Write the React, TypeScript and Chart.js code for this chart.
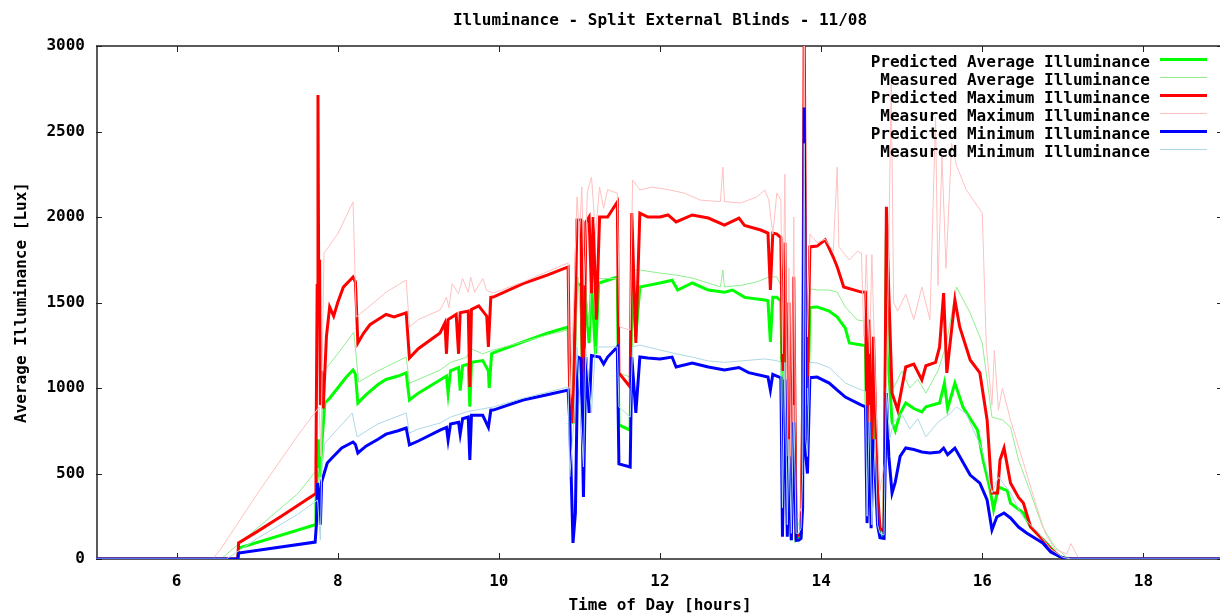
import { useEffect, useRef } from "react";
import { Chart, registerables } from "chart.js";

Chart.register(...registerables);

const TITLE = "Illuminance - Split External Blinds - 11/08";
const X_TITLE = "Time of Day [hours]";
const Y_TITLE = "Average Illuminance [Lux]";
const X_TICKS = [6, 8, 10, 12, 14, 16, 18];
const Y_TICKS = [0, 500, 1000, 1500, 2000, 2500, 3000];

const SERIES_LABELS = [
  "Predicted Average Illuminance",
  "Measured Average Illuminance",
  "Predicted Maximum Illuminance",
  "Measured Maximum Illuminance",
  "Predicted Minimum Illuminance",
  "Measured Minimum Illuminance",
];
const SERIES_COLORS = ["#00ff00", "#90ee90", "#ff0000", "#ffc0c0", "#0000ff", "#add8e6"];
const SERIES_WIDTHS = [3, 1, 3, 1, 3, 1];

// [hour, lux]
const predictedAverage: [number, number][] = [
  [5, 0], [6.76, 0], [6.77, 64], [7.72, 200], [7.73, 320], [7.75, 560], [7.76, 700], [7.78, 480], [7.8, 655],
  [7.84, 912], [7.9, 940], [8.0, 1000], [8.1, 1060], [8.19, 1105], [8.22, 1080], [8.25, 912], [8.35, 960],
  [8.5, 1020], [8.6, 1050], [8.75, 1070], [8.85, 1088], [8.89, 930], [9.0, 970], [9.27, 1047], [9.35, 1070],
  [9.37, 970], [9.4, 1100], [9.5, 1120], [9.52, 985], [9.55, 1130], [9.62, 1140], [9.64, 890], [9.66, 1150],
  [9.8, 1160], [9.87, 1100], [9.88, 1000], [9.91, 1200], [9.93, 1205], [10.3, 1270], [10.6, 1320], [10.86, 1357],
  [10.88, 970], [10.92, 790], [10.96, 1614], [11.02, 1600], [11.04, 1000], [11.06, 1610], [11.12, 1263],
  [11.15, 1614], [11.2, 1200], [11.24, 1614], [11.35, 1630], [11.47, 1649], [11.49, 784], [11.63, 754],
  [11.65, 1614], [11.7, 1300], [11.75, 1591], [11.85, 1600], [12.0, 1614], [12.15, 1630], [12.22, 1573],
  [12.4, 1614], [12.6, 1573], [12.8, 1560], [12.9, 1573], [13.05, 1530], [13.3, 1515], [13.34, 1510],
  [13.37, 1269], [13.4, 1530], [13.45, 1530], [13.5, 1510], [13.52, 900], [13.55, 1480], [13.58, 250],
  [13.6, 1100], [13.63, 110], [13.66, 1200], [13.69, 110], [13.72, 120], [13.75, 130], [13.77, 600],
  [13.79, 2200], [13.81, 900], [13.83, 800], [13.86, 1470], [13.95, 1474], [14.1, 1450], [14.2, 1415],
  [14.3, 1350], [14.35, 1263], [14.5, 1251], [14.55, 1250], [14.57, 500], [14.6, 1100], [14.62, 250],
  [14.65, 900], [14.7, 300], [14.73, 140], [14.78, 130], [14.81, 1900], [14.84, 1100], [14.88, 800],
  [14.92, 750], [14.98, 850], [15.05, 912], [15.15, 880], [15.25, 860], [15.3, 890], [15.47, 912],
  [15.53, 1029], [15.57, 880], [15.66, 1029], [15.76, 889], [15.94, 754], [16.01, 579], [16.09, 421],
  [16.14, 290], [16.2, 421], [16.31, 400], [16.35, 327], [16.51, 269], [16.6, 187], [16.76, 111],
  [16.93, 23], [17.0, 0], [19, 0],
];

const measuredAverage: [number, number][] = [
  [5, 0], [6.55, 0], [7.0, 180], [7.5, 380], [7.76, 532], [7.79, 400], [7.81, 900], [7.84, 1105], [8.0, 1200],
  [8.2, 1327], [8.26, 1035], [8.5, 1100], [8.85, 1181], [8.89, 1029], [9.0, 1050], [9.27, 1105], [9.4, 1150],
  [9.6, 1180], [9.65, 1230], [9.8, 1200], [9.93, 1222], [10.3, 1270], [10.6, 1310], [10.86, 1339],
  [10.88, 579], [10.95, 1200], [10.98, 1649], [11.03, 1300], [11.06, 1660], [11.12, 1357], [11.15, 1640],
  [11.3, 1640], [11.47, 1640], [11.49, 1088], [11.63, 1064], [11.66, 1690], [11.75, 1690], [12.0, 1672],
  [12.2, 1660], [12.4, 1643], [12.6, 1614], [12.75, 1591], [12.78, 1690], [12.8, 1591], [13.0, 1600],
  [13.2, 1620], [13.35, 1649], [13.45, 1650], [13.5, 1600], [13.52, 800], [13.55, 1650], [13.58, 300],
  [13.6, 1200], [13.63, 200], [13.66, 1300], [13.69, 180], [13.72, 200], [13.75, 250], [13.77, 800],
  [13.79, 2300], [13.81, 1000], [13.83, 900], [13.86, 1580], [13.95, 1573], [14.1, 1573], [14.2, 1560],
  [14.3, 1474], [14.45, 1398], [14.55, 1390], [14.57, 600], [14.6, 1250], [14.63, 300], [14.67, 1000],
  [14.7, 400], [14.73, 200], [14.78, 180], [14.81, 1900], [14.84, 1200], [14.9, 1000], [15.0, 1100],
  [15.1, 1000], [15.2, 1050], [15.3, 970], [15.45, 1100], [15.55, 1250], [15.68, 1591], [15.85, 1438],
  [16.0, 1263], [16.12, 830], [16.25, 813], [16.35, 772], [16.45, 579], [16.6, 386], [16.75, 187],
  [16.9, 70], [17.05, 10], [17.15, 0], [19, 0],
];

const predictedMaximum: [number, number][] = [
  [5, 0], [6.76, 0], [6.77, 94], [7.0, 160], [7.3, 250], [7.72, 380], [7.73, 560], [7.745, 1600],
  [7.755, 2713], [7.765, 1500], [7.775, 1750], [7.785, 900], [7.8, 1100], [7.82, 880], [7.86, 1300],
  [7.9, 1474], [7.95, 1420], [8.0, 1500], [8.07, 1590], [8.19, 1649], [8.22, 1620], [8.25, 1263],
  [8.32, 1320], [8.4, 1370], [8.5, 1400], [8.6, 1430], [8.7, 1415], [8.85, 1440], [8.89, 1175], [9.0, 1230],
  [9.27, 1322], [9.33, 1380], [9.35, 1200], [9.37, 1400], [9.47, 1430], [9.5, 1200], [9.52, 1440],
  [9.62, 1450], [9.64, 1006], [9.66, 1460], [9.75, 1480], [9.85, 1420], [9.87, 1240], [9.9, 1530],
  [9.93, 1532], [10.3, 1610], [10.6, 1660], [10.86, 1708], [10.88, 970], [10.92, 795], [10.97, 1982],
  [11.02, 1982], [11.03, 1322], [11.05, 795], [11.08, 1970], [11.12, 2000], [11.15, 1555], [11.17, 2000],
  [11.21, 1400], [11.25, 2000], [11.35, 2000], [11.47, 2088], [11.49, 1088], [11.63, 1006], [11.65, 2023],
  [11.7, 1263], [11.75, 2023], [11.85, 2000], [12.0, 2000], [12.1, 2012], [12.2, 1971], [12.4, 2012],
  [12.6, 1994], [12.8, 1953], [12.98, 1994], [13.05, 1950], [13.25, 1924], [13.34, 1906], [13.37, 1573],
  [13.4, 1906], [13.45, 1900], [13.5, 1880], [13.52, 1100], [13.55, 1850], [13.58, 300], [13.6, 1500],
  [13.63, 130], [13.66, 1650], [13.69, 130], [13.72, 140], [13.75, 150], [13.77, 900], [13.79, 3100],
  [13.81, 1300], [13.83, 1000], [13.86, 1825], [13.95, 1830], [14.05, 1866], [14.15, 1766], [14.2, 1708],
  [14.28, 1591], [14.5, 1561], [14.55, 1560], [14.57, 700], [14.6, 1400], [14.62, 300], [14.65, 1300],
  [14.7, 400], [14.73, 180], [14.78, 160], [14.81, 2060], [14.84, 1555], [14.88, 970], [14.95, 871],
  [15.05, 1123], [15.15, 1140], [15.25, 1047], [15.3, 1130], [15.42, 1150], [15.47, 1240], [15.52, 1555],
  [15.56, 1088], [15.66, 1515], [15.72, 1357], [15.85, 1164], [15.97, 1088], [16.06, 813], [16.12, 386],
  [16.19, 386], [16.22, 579], [16.27, 649], [16.35, 444], [16.45, 360], [16.51, 327], [16.6, 187],
  [16.72, 129], [16.85, 58], [16.97, 12], [17.05, 0], [19, 0],
];

const measuredMaximum: [number, number][] = [
  [5, 0], [6.45, 0], [6.55, 60], [7.0, 380], [7.5, 720], [7.77, 889], [7.79, 600], [7.81, 1200],
  [7.83, 1789], [8.0, 1900], [8.19, 2088], [8.23, 1415], [8.4, 1480], [8.6, 1560], [8.85, 1632],
  [8.89, 1357], [9.0, 1400], [9.27, 1456], [9.35, 1530], [9.38, 1470], [9.42, 1610], [9.5, 1550],
  [9.55, 1640], [9.62, 1560], [9.65, 1649], [9.7, 1560], [9.8, 1640], [9.85, 1570], [9.93, 1555],
  [10.3, 1620], [10.6, 1680], [10.86, 1731], [10.88, 900], [10.93, 1500], [10.97, 2117], [11.0, 1900],
  [11.03, 2175], [11.06, 1600], [11.1, 2150], [11.15, 2234], [11.2, 1900], [11.25, 2175], [11.3, 2050],
  [11.35, 2160], [11.47, 2140], [11.5, 1357], [11.63, 1339], [11.66, 2216], [11.75, 2158], [11.9, 2175],
  [12.1, 2160], [12.3, 2140], [12.5, 2099], [12.75, 2090], [12.78, 2292], [12.8, 2090], [13.0, 2082],
  [13.2, 2117], [13.3, 2158], [13.35, 2100], [13.4, 1900], [13.45, 2140], [13.5, 2100], [13.52, 1200],
  [13.55, 2250], [13.58, 500], [13.6, 1700], [13.63, 250], [13.66, 2000], [13.69, 250], [13.72, 250],
  [13.75, 300], [13.77, 1200], [13.79, 3100], [13.81, 1500], [13.83, 1300], [13.86, 1900], [13.95, 1850],
  [14.05, 1870], [14.15, 1800], [14.2, 2292], [14.22, 1825], [14.35, 1749], [14.45, 1800], [14.5, 1789],
  [14.53, 1300], [14.56, 1780], [14.6, 1200], [14.63, 1780], [14.68, 900], [14.73, 400], [14.8, 600],
  [14.87, 2780], [14.9, 1500], [14.95, 1450], [15.05, 1550], [15.15, 1400], [15.25, 1590], [15.35, 1400],
  [15.42, 2585], [15.45, 1600], [15.5, 2350], [15.55, 1700], [15.62, 2430], [15.68, 2300], [15.8, 2160],
  [16.0, 2023], [16.05, 1240], [16.12, 900], [16.15, 1222], [16.2, 870], [16.25, 1000], [16.35, 813],
  [16.5, 579], [16.66, 327], [16.78, 152], [16.9, 58], [17.05, 30], [17.1, 90], [17.2, 0], [19, 0],
];

const predictedMinimum: [number, number][] = [
  [5, 0], [6.76, 0], [6.77, 35], [7.72, 99], [7.735, 200], [7.75, 444], [7.77, 380], [7.785, 200],
  [7.8, 450], [7.87, 561], [7.94, 596], [8.05, 650], [8.19, 684], [8.22, 670], [8.25, 620], [8.35, 660],
  [8.5, 700], [8.6, 730], [8.75, 750], [8.85, 766], [8.89, 667], [9.0, 690], [9.27, 754], [9.35, 770],
  [9.37, 696], [9.4, 790], [9.5, 800], [9.52, 730], [9.55, 820], [9.62, 830], [9.64, 579], [9.66, 840],
  [9.8, 840], [9.87, 770], [9.9, 870], [9.93, 871], [10.3, 930], [10.6, 960], [10.86, 988], [10.88, 800],
  [10.92, 94], [10.95, 269], [10.98, 1181], [11.02, 1170], [11.05, 362], [11.08, 1181], [11.12, 854],
  [11.15, 1190], [11.25, 1181], [11.3, 1140], [11.35, 1181], [11.47, 1240], [11.49, 556], [11.63, 538],
  [11.65, 1181], [11.7, 854], [11.75, 1181], [11.85, 1175], [12.0, 1170], [12.15, 1181], [12.2, 1123],
  [12.4, 1146], [12.6, 1123], [12.8, 1105], [12.98, 1120], [13.1, 1090], [13.34, 1064], [13.37, 988],
  [13.4, 1080], [13.45, 1070], [13.5, 1060], [13.52, 130], [13.55, 1050], [13.58, 130], [13.6, 600],
  [13.63, 110], [13.66, 800], [13.69, 110], [13.72, 110], [13.75, 120], [13.77, 300], [13.79, 2640],
  [13.81, 600], [13.83, 500], [13.86, 1060], [13.95, 1064], [14.1, 1029], [14.2, 988], [14.3, 947],
  [14.5, 900], [14.55, 890], [14.57, 210], [14.6, 800], [14.62, 180], [14.65, 700], [14.7, 200],
  [14.73, 125], [14.78, 120], [14.81, 970], [14.84, 600], [14.88, 386], [14.92, 450], [14.98, 600],
  [15.05, 649], [15.15, 640], [15.25, 626], [15.35, 620], [15.47, 626], [15.52, 649], [15.57, 610],
  [15.66, 649], [15.72, 600], [15.85, 491], [15.97, 444], [16.06, 345], [16.12, 170], [16.18, 246],
  [16.27, 269], [16.35, 240], [16.45, 187], [16.55, 152], [16.75, 94], [16.85, 41], [16.97, 12],
  [17.05, 0], [19, 0],
];

const measuredMinimum: [number, number][] = [
  [5, 0], [6.62, 0], [7.0, 120], [7.5, 260], [7.75, 345], [7.77, 200], [7.785, 111], [7.8, 500],
  [7.84, 678], [8.0, 760], [8.18, 854], [8.24, 714], [8.5, 790], [8.85, 854], [8.89, 737], [9.0, 760],
  [9.27, 795], [9.4, 830], [9.6, 860], [9.7, 870], [9.93, 889], [10.3, 940], [10.6, 975], [10.86, 1006],
  [10.88, 480], [10.93, 800], [10.97, 1240], [11.05, 538], [11.08, 1230], [11.15, 854], [11.2, 1240],
  [11.35, 1240], [11.47, 1240], [11.49, 889], [11.63, 830], [11.66, 1240], [11.75, 1251], [12.0, 1222],
  [12.2, 1200], [12.4, 1181], [12.6, 1158], [12.8, 1150], [13.0, 1158], [13.3, 1170], [13.45, 1160],
  [13.5, 1150], [13.52, 300], [13.55, 1150], [13.58, 200], [13.6, 700], [13.63, 150], [13.66, 900],
  [13.69, 150], [13.72, 150], [13.75, 180], [13.77, 500], [13.79, 2430], [13.81, 700], [13.83, 600],
  [13.86, 1150], [13.95, 1146], [14.1, 1120], [14.3, 1029], [14.5, 988], [14.55, 980], [14.57, 250],
  [14.6, 900], [14.63, 200], [14.67, 700], [14.7, 200], [14.73, 150], [14.78, 140], [14.81, 1000],
  [14.85, 700], [14.9, 800], [15.0, 850], [15.1, 760], [15.2, 820], [15.3, 714], [15.45, 800],
  [15.6, 850], [15.68, 889], [15.8, 850], [16.0, 637], [16.12, 386], [16.2, 480], [16.35, 386],
  [16.5, 246], [16.7, 152], [16.85, 58], [17.0, 10], [17.1, 0], [19, 0],
];

const SERIES_DATA = [
  predictedAverage,
  measuredAverage,
  predictedMaximum,
  measuredMaximum,
  predictedMinimum,
  measuredMinimum,
];

const FONT_FAMILY = "'DejaVu Sans Mono', 'Liberation Mono', monospace";
const FONT = `bold 16px ${FONT_FAMILY}`;

const decorPlugin = {
  id: "decor",
  beforeDatasetsDraw(chart: any) {
    const { ctx, chartArea: a, scales } = chart;
    ctx.save();
    ctx.strokeStyle = "#5a5a5a";
    ctx.lineWidth = 2;
    ctx.beginPath();
    ctx.rect(a.left + 1, a.top, a.right - a.left, a.bottom - a.top);
    ctx.stroke();
    ctx.strokeStyle = "#222";
    ctx.lineWidth = 1;
    ctx.beginPath();
    for (const v of X_TICKS) {
      const px = Math.round(scales.x.getPixelForValue(v)) + 0.5;
      ctx.moveTo(px, a.bottom);
      ctx.lineTo(px, a.bottom - 6);
      ctx.moveTo(px, a.top);
      ctx.lineTo(px, a.top + 6);
    }
    for (const v of Y_TICKS) {
      const py = Math.round(scales.y.getPixelForValue(v)) + 0.5;
      ctx.moveTo(a.left, py);
      ctx.lineTo(a.left + 6, py);
      ctx.moveTo(a.right - 1, py);
      ctx.lineTo(a.right - 7, py);
    }
    ctx.stroke();
    ctx.restore();
  },
  afterDraw(chart: any) {
    const { ctx, chartArea: a } = chart;
    ctx.save();
    ctx.font = FONT;
    ctx.fillStyle = "#000";
    ctx.textBaseline = "alphabetic";
    ctx.textAlign = "center";
    const cx = (a.left + a.right) / 2;
    ctx.fillText(TITLE, cx, 25);
    ctx.fillText(X_TITLE, cx, 610);
    ctx.save();
    ctx.translate(26, (a.top + a.bottom) / 2);
    ctx.rotate(-Math.PI / 2);
    ctx.fillText(Y_TITLE, 0, 0);
    ctx.restore();
    // legend
    ctx.textAlign = "right";
    SERIES_LABELS.forEach((label, i) => {
      const base = 66.5 + 18 * i;
      ctx.fillStyle = "#000";
      ctx.fillText(label, 1150, base);
      ctx.strokeStyle = SERIES_COLORS[i];
      ctx.lineWidth = SERIES_WIDTHS[i];
      const ly = 59.5 + 18 * i;
      ctx.beginPath();
      ctx.moveTo(1160, ly);
      ctx.lineTo(1207, ly);
      ctx.stroke();
    });
    ctx.restore();
  },
};

export default function App() {
  const canvasRef = useRef<HTMLCanvasElement | null>(null);

  useEffect(() => {
    const canvas = canvasRef.current;
    if (!canvas) return;
    const chart = new Chart(canvas, {
      type: "line",
      data: {
        datasets: SERIES_DATA.map((series, i) => ({
          label: SERIES_LABELS[i],
          data: series.map(([h, lux]) => ({ x: h, y: lux })),
          borderColor: SERIES_COLORS[i],
          backgroundColor: SERIES_COLORS[i],
          borderWidth: SERIES_WIDTHS[i],
          pointRadius: 0,
          tension: 0,
          fill: false,
          order: 5 - i,
        })),
      },
      options: {
        responsive: false,
        devicePixelRatio: 1,
        animation: false,
        events: [],
        layout: { padding: { top: 46, left: 0, right: 0, bottom: 0 } },
        plugins: {
          legend: { display: false },
          title: { display: false },
          tooltip: { enabled: false },
        },
        scales: {
          x: {
            type: "linear",
            min: 5,
            max: 19,
            grid: { display: false },
            border: { display: false },
            afterBuildTicks: (s: any) => {
              s.ticks = X_TICKS.map((v) => ({ value: v }));
            },
            afterFit: (s: any) => {
              s.height = 55;
            },
            ticks: {
              padding: 5,
              color: "#000",
              font: { family: FONT_FAMILY, size: 16, weight: "bold" },
              maxRotation: 0,
              autoSkip: false,
              callback: (v: any) => String(v),
            },
          },
          y: {
            type: "linear",
            min: 0,
            max: 3000,
            grid: { display: false },
            border: { display: false },
            afterBuildTicks: (s: any) => {
              s.ticks = Y_TICKS.map((v) => ({ value: v }));
            },
            afterFit: (s: any) => {
              s.width = 96;
            },
            ticks: {
              padding: 3,
              color: "#000",
              font: { family: FONT_FAMILY, size: 16, weight: "bold" },
              autoSkip: false,
              callback: (v: any) => String(v),
            },
          },
        },
      },
      plugins: [decorPlugin],
    } as any);
    return () => chart.destroy();
  }, []);

  return (
    <div
      style={{
        position: "fixed",
        left: 0,
        top: 0,
        width: 1220,
        height: 614,
        overflow: "hidden",
        background: "#fff",
      }}
    >
      <canvas
        ref={canvasRef}
        width={1224}
        height={614}
        style={{ width: 1224, height: 614, display: "block" }}
      />
    </div>
  );
}
